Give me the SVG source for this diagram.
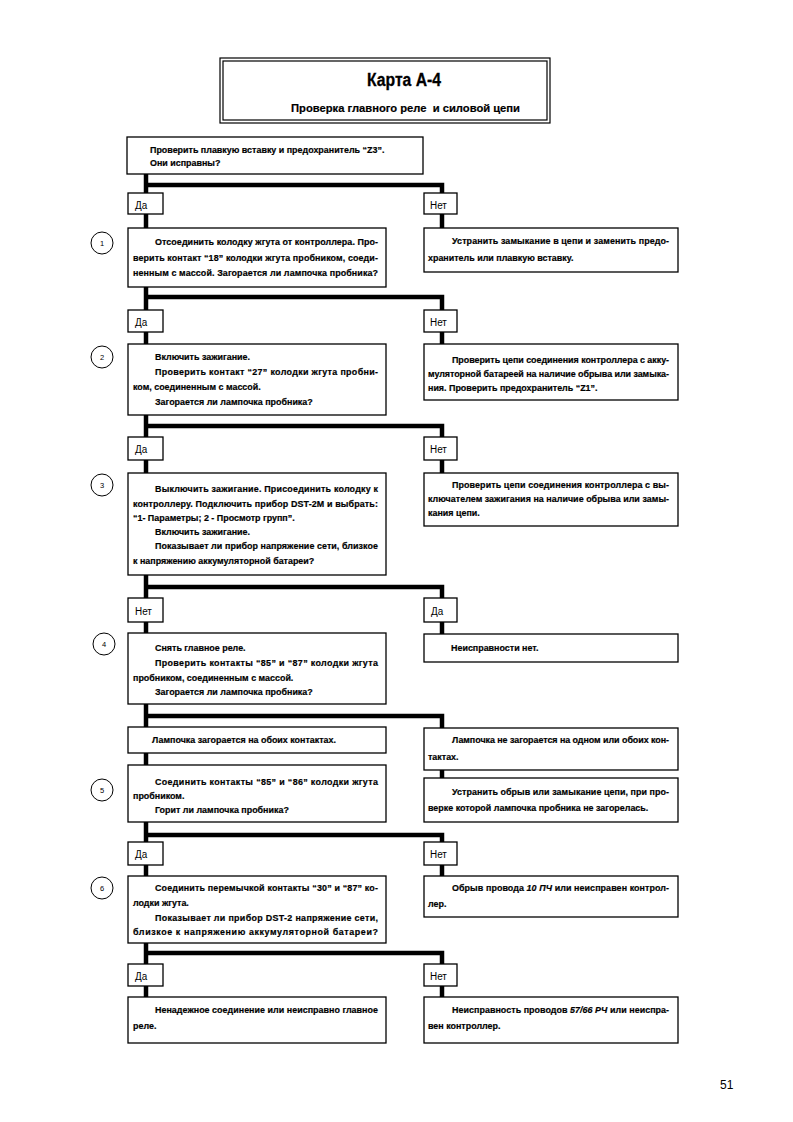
<svg xmlns="http://www.w3.org/2000/svg" width="793" height="1122" viewBox="0 0 793 1122">
<style>
.bg{fill:#fff}
.box{fill:#fff;stroke:#000;stroke-width:1.3}
.frame{fill:none;stroke:#000;stroke-width:1.2}
.t{font-family:"Liberation Sans",Arial,sans-serif;font-weight:bold;font-size:9.5px;fill:#000;stroke:#000;stroke-width:0.2}
.lbl{font-family:"Liberation Sans",Arial,sans-serif;font-size:11px;fill:#000}
.num{font-family:"Liberation Sans",Arial,sans-serif;font-size:7.5px;fill:#000;text-anchor:middle}
.circ{fill:#fff;stroke:#000;stroke-width:1}
.wire{fill:none;stroke:#000;stroke-width:4.5;stroke-linejoin:miter;stroke-linecap:butt}
.it{font-style:italic}
</style>
<rect class="bg" x="0" y="0" width="793" height="1122"/>

<g id="title">
<rect class="frame" x="220" y="58" width="330" height="65"/>
<rect class="frame" x="223" y="61" width="324" height="59"/>
<text x="367" y="86" font-family="Liberation Sans, Arial, sans-serif" font-weight="bold" font-size="18" stroke="#000" stroke-width="0.3" textLength="74" lengthAdjust="spacingAndGlyphs">Карта А-4</text>
<text x="291" y="112" font-family="Liberation Sans, Arial, sans-serif" font-weight="bold" font-size="11" stroke="#000" stroke-width="0.2" textLength="229" lengthAdjust="spacingAndGlyphs" xml:space="preserve">Проверка главного реле  и силовой цепи</text>
</g>

<g id="connectors">
<path class="wire" d="M146,174 V193"/>
<path class="wire" d="M146,185 H442 V193"/>
<path class="wire" d="M146,214 V228"/>
<path class="wire" d="M442,214 V228"/>
<path class="wire" d="M146,287 V310"/>
<path class="wire" d="M146,297 H442 V310"/>
<path class="wire" d="M146,332 V344"/>
<path class="wire" d="M442,332 V344"/>
<path class="wire" d="M146,415 V437"/>
<path class="wire" d="M146,426 H442 V437"/>
<path class="wire" d="M146,460 V473"/>
<path class="wire" d="M442,460 V473"/>
<path class="wire" d="M146,575 V598"/>
<path class="wire" d="M146,587 H442 V598"/>
<path class="wire" d="M146,622 V633"/>
<path class="wire" d="M442,622 V634"/>
<path class="wire" d="M146,704 V727"/>
<path class="wire" d="M146,716 H442 V728"/>
<path class="wire" d="M146,753 V765"/>
<path class="wire" d="M442,770 V778"/>
<path class="wire" d="M146,822 V842"/>
<path class="wire" d="M146,835 H442 V842"/>
<path class="wire" d="M146,865 V876"/>
<path class="wire" d="M442,865 V876"/>
<path class="wire" d="M146,943 V964"/>
<path class="wire" d="M146,953 H442 V964"/>
<path class="wire" d="M146,986 V997"/>
<path class="wire" d="M442,986 V997"/>
</g>

<g id="q0">
<rect class="box" x="127" y="137" width="296" height="37"/>
<text class="t" transform="translate(150,153) scale(0.94,1)">Проверить плавкую вставку и предохранитель “Z3”.</text>
<text class="t" transform="translate(150,166) scale(0.94,1)">Они исправны?</text>
</g>

<g id="lA1"><rect class="box" x="128" y="193" width="35" height="21"/><text class="lbl" transform="translate(135,209) scale(0.9,1)">Да</text></g>
<g id="lA2"><rect class="box" x="424" y="193" width="33" height="21"/><text class="lbl" transform="translate(430,209) scale(0.9,1)">Нет</text></g>

<g id="n1"><circle class="circ" cx="102" cy="243" r="11"/><text class="num" x="102" y="246">1</text></g>
<g id="q1">
<rect class="box" x="128" y="228" width="258" height="59"/>
<text class="t" transform="translate(155,245) scale(0.94,1)" textLength="237.2" lengthAdjust="spacing">Отсоединить колодку жгута от контроллера. Про-</text>
<text class="t" transform="translate(133,261) scale(0.94,1)" textLength="260.6" lengthAdjust="spacing">верить контакт “18” колодки жгута пробником, соеди-</text>
<text class="t" transform="translate(133,276) scale(0.94,1)" textLength="260.6" lengthAdjust="spacing">ненным с массой. Загорается ли лампочка пробника?</text>
</g>
<g id="r1">
<rect class="box" x="424" y="228" width="254" height="44"/>
<text class="t" transform="translate(452,244) scale(0.94,1)" textLength="230.9" lengthAdjust="spacing">Устранить замыкание в цепи и заменить предо-</text>
<text class="t" transform="translate(428,261) scale(0.94,1)">хранитель или плавкую вставку.</text>
</g>

<g id="lB1"><rect class="box" x="128" y="310" width="35" height="22"/><text class="lbl" transform="translate(135,326) scale(0.9,1)">Да</text></g>
<g id="lB2"><rect class="box" x="424" y="310" width="33" height="22"/><text class="lbl" transform="translate(430,326) scale(0.9,1)">Нет</text></g>

<g id="n2"><circle class="circ" cx="102" cy="357" r="11"/><text class="num" x="102" y="360">2</text></g>
<g id="q2">
<rect class="box" x="128" y="344" width="258" height="71"/>
<text class="t" transform="translate(155,360) scale(0.94,1)">Включить зажигание.</text>
<text class="t" transform="translate(155,375) scale(0.94,1)" textLength="237.2" lengthAdjust="spacing">Проверить контакт “27” колодки жгута пробни-</text>
<text class="t" transform="translate(133,390) scale(0.94,1)">ком, соединенным с массой.</text>
<text class="t" transform="translate(155,405) scale(0.94,1)">Загорается ли лампочка пробника?</text>
</g>
<g id="r2">
<rect class="box" x="424" y="344" width="254" height="56"/>
<text class="t" transform="translate(452,363) scale(0.94,1)" textLength="230.9" lengthAdjust="spacing">Проверить цепи соединения контроллера с акку-</text>
<text class="t" transform="translate(428,377) scale(0.94,1)" textLength="256.4" lengthAdjust="spacing">муляторной батареей на наличие обрыва или замыка-</text>
<text class="t" transform="translate(428,391) scale(0.94,1)">ния. Проверить предохранитель “Z1”.</text>
</g>

<g id="lC1"><rect class="box" x="128" y="437" width="35" height="23"/><text class="lbl" transform="translate(135,453) scale(0.9,1)">Да</text></g>
<g id="lC2"><rect class="box" x="424" y="437" width="33" height="23"/><text class="lbl" transform="translate(430,453) scale(0.9,1)">Нет</text></g>

<g id="n3"><circle class="circ" cx="102" cy="485" r="11"/><text class="num" x="102" y="488">3</text></g>
<g id="q3">
<rect class="box" x="128" y="473" width="258" height="102"/>
<text class="t" transform="translate(155,492) scale(0.94,1)" textLength="237.2" lengthAdjust="spacing">Выключить зажигание. Присоединить колодку к</text>
<text class="t" transform="translate(133,507) scale(0.94,1)" textLength="260.6" lengthAdjust="spacing">контроллеру. Подключить прибор DST-2M и выбрать:</text>
<text class="t" transform="translate(133,521) scale(0.94,1)">“1- Параметры; 2 - Просмотр групп”.</text>
<text class="t" transform="translate(155,535) scale(0.94,1)">Включить зажигание.</text>
<text class="t" transform="translate(155,549) scale(0.94,1)" textLength="237.2" lengthAdjust="spacing">Показывает ли прибор напряжение сети, близкое</text>
<text class="t" transform="translate(133,564) scale(0.94,1)">к напряжению аккумуляторной батареи?</text>
</g>
<g id="r3">
<rect class="box" x="424" y="473" width="254" height="53"/>
<text class="t" transform="translate(452,488) scale(0.94,1)" textLength="230.9" lengthAdjust="spacing">Проверить цепи соединения контроллера с вы-</text>
<text class="t" transform="translate(428,502) scale(0.94,1)" textLength="256.4" lengthAdjust="spacing">ключателем зажигания на наличие обрыва или замы-</text>
<text class="t" transform="translate(428,516) scale(0.94,1)">кания цепи.</text>
</g>

<g id="lD1"><rect class="box" x="128" y="598" width="35" height="24"/><text class="lbl" transform="translate(135,615) scale(0.9,1)">Нет</text></g>
<g id="lD2"><rect class="box" x="424" y="598" width="33" height="24"/><text class="lbl" transform="translate(431,615) scale(0.9,1)">Да</text></g>

<g id="n4"><circle class="circ" cx="104" cy="644" r="11"/><text class="num" x="104" y="647">4</text></g>
<g id="q4">
<rect class="box" x="128" y="633" width="258" height="71"/>
<text class="t" transform="translate(155,651) scale(0.94,1)">Снять главное реле.</text>
<text class="t" transform="translate(155,666) scale(0.94,1)" textLength="237.2" lengthAdjust="spacing">Проверить контакты “85” и “87” колодки жгута</text>
<text class="t" transform="translate(133,681) scale(0.94,1)">пробником, соединенным с массой.</text>
<text class="t" transform="translate(155,695) scale(0.94,1)">Загорается ли лампочка пробника?</text>
</g>
<g id="r4">
<rect class="box" x="424" y="634" width="254" height="28"/>
<text class="t" transform="translate(451,651) scale(0.94,1)">Неисправности нет.</text>
</g>

<g id="e1">
<rect class="box" x="128" y="727" width="258" height="26"/>
<text class="t" transform="translate(152,743) scale(0.94,1)">Лампочка загорается на обоих контактах.</text>
</g>
<g id="e2">
<rect class="box" x="424" y="728" width="254" height="42"/>
<text class="t" transform="translate(452,743) scale(0.94,1)" textLength="230.9" lengthAdjust="spacing">Лампочка не загорается на одном или обоих кон-</text>
<text class="t" transform="translate(428,760) scale(0.94,1)">тактах.</text>
</g>

<g id="n5"><circle class="circ" cx="102" cy="790" r="11"/><text class="num" x="102" y="793">5</text></g>
<g id="q5">
<rect class="box" x="128" y="765" width="258" height="57"/>
<text class="t" transform="translate(155,785) scale(0.94,1)" textLength="237.2" lengthAdjust="spacing">Соединить контакты “85” и “86” колодки жгута</text>
<text class="t" transform="translate(133,799) scale(0.94,1)">пробником.</text>
<text class="t" transform="translate(155,813) scale(0.94,1)">Горит ли лампочка пробника?</text>
</g>
<g id="r5">
<rect class="box" x="424" y="778" width="254" height="44"/>
<text class="t" transform="translate(452,795) scale(0.94,1)" textLength="230.9" lengthAdjust="spacing">Устранить обрыв или замыкание цепи, при про-</text>
<text class="t" transform="translate(428,811) scale(0.94,1)">верке которой лампочка пробника не загорелась.</text>
</g>

<g id="lF1"><rect class="box" x="128" y="842" width="35" height="23"/><text class="lbl" transform="translate(135,858) scale(0.9,1)">Да</text></g>
<g id="lF2"><rect class="box" x="424" y="842" width="33" height="23"/><text class="lbl" transform="translate(430,858) scale(0.9,1)">Нет</text></g>

<g id="n6"><circle class="circ" cx="102" cy="888" r="11"/><text class="num" x="102" y="891">6</text></g>
<g id="q6">
<rect class="box" x="128" y="876" width="258" height="67"/>
<text class="t" transform="translate(155,891) scale(0.94,1)" textLength="237.2" lengthAdjust="spacing">Соединить перемычкой контакты “30” и “87” ко-</text>
<text class="t" transform="translate(133,906) scale(0.94,1)">лодки жгута.</text>
<text class="t" transform="translate(155,921) scale(0.94,1)" textLength="237.2" lengthAdjust="spacing">Показывает ли прибор DST-2 напряжение сети,</text>
<text class="t" transform="translate(133,935) scale(0.94,1)" textLength="260.6" lengthAdjust="spacing">близкое к напряжению аккумуляторной батареи?</text>
</g>
<g id="r6">
<rect class="box" x="424" y="876" width="254" height="41"/>
<text class="t" transform="translate(452,891) scale(0.94,1)" textLength="230.9" lengthAdjust="spacing">Обрыв провода <tspan class="it">10 ПЧ</tspan> или неисправен контрол-</text>
<text class="t" transform="translate(428,907) scale(0.94,1)">лер.</text>
</g>

<g id="lG1"><rect class="box" x="128" y="964" width="35" height="22"/><text class="lbl" transform="translate(135,980) scale(0.9,1)">Да</text></g>
<g id="lG2"><rect class="box" x="424" y="964" width="33" height="22"/><text class="lbl" transform="translate(430,980) scale(0.9,1)">Нет</text></g>

<g id="f1">
<rect class="box" x="128" y="997" width="258" height="46"/>
<text class="t" transform="translate(155,1013) scale(0.94,1)" textLength="237.2" lengthAdjust="spacing">Ненадежное соединение или неисправно главное</text>
<text class="t" transform="translate(133,1029) scale(0.94,1)">реле.</text>
</g>
<g id="f2">
<rect class="box" x="424" y="997" width="254" height="46"/>
<text class="t" transform="translate(452,1013) scale(0.94,1)" textLength="230.9" lengthAdjust="spacing">Неисправность проводов <tspan class="it">57/66 РЧ</tspan> или неиспра-</text>
<text class="t" transform="translate(428,1029) scale(0.94,1)">вен контроллер.</text>
</g>

<text x="720" y="1089" font-family="Liberation Sans, Arial, sans-serif" font-size="12">51</text>
</svg>
